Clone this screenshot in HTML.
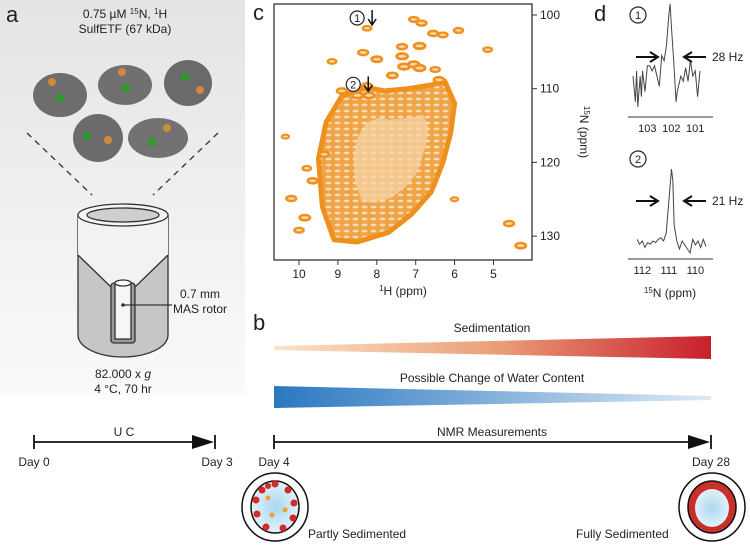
<!DOCTYPE html>
<html><head><meta charset="utf-8"><style>
body{margin:0;background:#fff;font-family:"Liberation Sans",sans-serif;}
svg text{font-family:"Liberation Sans",sans-serif;fill:#222;}
</style></head><body>
<svg id="fig" width="750" height="548" viewBox="0 0 750 548" xmlns="http://www.w3.org/2000/svg">
<defs>
<linearGradient id="bgA" x1="0" y1="0" x2="0" y2="1"><stop offset="0" stop-color="#e4e4e4"/><stop offset="1" stop-color="#fafafa"/></linearGradient>
<linearGradient id="sed" x1="0" x2="1"><stop offset="0" stop-color="#fbe3c8"/><stop offset="0.5" stop-color="#eba07a"/><stop offset="1" stop-color="#c8202a"/></linearGradient>
<linearGradient id="wat" x1="0" x2="1"><stop offset="0" stop-color="#2a78c0"/><stop offset="1" stop-color="#dde9f4"/></linearGradient>
<radialGradient id="core"><stop offset="0" stop-color="#a9d8f0"/><stop offset="1" stop-color="#e2f1f8"/></radialGradient>
<pattern id="mottle" width="9" height="6" patternUnits="userSpaceOnUse"><rect width="9" height="6" fill="#f0a448"/><ellipse cx="4.5" cy="3" rx="3" ry="1.4" fill="#f8dcb4"/></pattern>
<clipPath id="specClip"><rect x="274" y="4" width="258" height="256"/></clipPath>
</defs>
<g>
<rect x="0" y="0" width="245" height="395" fill="url(#bgA)"/>
<text x="6" y="22" font-size="22">a</text>
<text x="125" y="18" font-size="12" text-anchor="middle">0.75 µM <tspan font-size="8" dy="-4">15</tspan><tspan dy="4">N, </tspan><tspan font-size="8" dy="-4">1</tspan><tspan dy="4">H</tspan></text>
<text x="125" y="33" font-size="12" text-anchor="middle">SulfETF (67 kDa)</text>
<g>
<ellipse cx="60" cy="95" rx="27" ry="22" fill="#6d6d6d"/><circle cx="60" cy="98" r="4" fill="#2a9a2a"/><circle cx="52" cy="82" r="4" fill="#d08a3a"/>
<ellipse cx="125" cy="85" rx="27" ry="20" fill="#707070"/><circle cx="126" cy="88" r="4" fill="#2a9a2a"/><circle cx="122" cy="72" r="4" fill="#d08a3a"/>
<ellipse cx="188" cy="83" rx="24" ry="23" fill="#6a6a6a"/><circle cx="185" cy="77" r="4" fill="#2a9a2a"/><circle cx="200" cy="90" r="4" fill="#d08a3a"/>
<ellipse cx="98" cy="138" rx="25" ry="24" fill="#6b6b6b"/><circle cx="87" cy="136" r="4" fill="#2a9a2a"/><circle cx="108" cy="140" r="4" fill="#d08a3a"/>
<ellipse cx="158" cy="138" rx="30" ry="20" fill="#727272"/><circle cx="152" cy="142" r="4" fill="#2a9a2a"/><circle cx="167" cy="128" r="4" fill="#d08a3a"/>
</g>
<line x1="27" y1="133" x2="92" y2="195" stroke="#333" stroke-width="1.3" stroke-dasharray="6,5"/>
<line x1="218" y1="133" x2="153" y2="195" stroke="#333" stroke-width="1.3" stroke-dasharray="6,5"/>
<g stroke="#333" stroke-width="1.3">
<path d="M78 215 V335 A45 22 0 0 0 168 335 V215" fill="#c6c6c6"/>
<path d="M78 215 V255 L111 287 H135 L168 255 V215 Z" fill="#f2f2f2" stroke="none"/>
<ellipse cx="123" cy="215" rx="45" ry="11" fill="#f5f5f5"/>
<ellipse cx="123" cy="215" rx="36" ry="7" fill="#cfcfcf"/>
<path d="M78 255 L111 287 M168 255 L135 287" fill="none"/>
<rect x="111" y="283" width="24" height="60" rx="3" fill="#9a9a9a"/>
<rect x="115" y="283" width="16" height="56" fill="#f6f6f6"/>
<ellipse cx="123" cy="283" rx="8" ry="3" fill="#fff"/>
</g>
<line x1="123" y1="305" x2="172" y2="305" stroke="#333" stroke-width="1.3"/>
<circle cx="123" cy="305" r="1.8" fill="#333"/>
<text x="200" y="298" font-size="12" text-anchor="middle">0.7 mm</text>
<text x="200" y="313" font-size="12" text-anchor="middle">MAS rotor</text>
<text x="123" y="378" font-size="12" text-anchor="middle">82.000 x <tspan font-style="italic">g</tspan></text>
<text x="123" y="393" font-size="12" text-anchor="middle">4 °C, 70 hr</text>
</g>
<text x="253" y="20" font-size="22">c</text>
<g id="spec"></g>
<text x="594" y="21" font-size="22">d</text>
<g id="slices"></g>
<text x="253" y="330" font-size="22">b</text>
<text x="492" y="332" font-size="12" text-anchor="middle">Sedimentation</text>
<polygon points="274,346 711,336 711,359 274,350" fill="url(#sed)"/>
<text x="492" y="382" font-size="12" text-anchor="middle">Possible Change of Water Content</text>
<polygon points="274,386 711,396 711,400 274,408" fill="url(#wat)"/>
<g stroke="#111" stroke-width="1.8">
<line x1="34" y1="442" x2="200" y2="442"/><line x1="34" y1="435" x2="34" y2="449"/><line x1="215" y1="435" x2="215" y2="449"/>
<polygon points="192,435 214,442 192,449" fill="#111" stroke="none"/>
</g>
<text x="124" y="436" font-size="12" text-anchor="middle">U C</text>
<text x="34" y="466" font-size="12" text-anchor="middle">Day 0</text>
<text x="217" y="466" font-size="12" text-anchor="middle">Day 3</text>
<g stroke="#111" stroke-width="1.8">
<line x1="274" y1="442" x2="695" y2="442"/><line x1="274" y1="435" x2="274" y2="449"/><line x1="711" y1="435" x2="711" y2="449"/>
<polygon points="688,435 710,442 688,449" fill="#111" stroke="none"/>
</g>
<text x="492" y="436" font-size="12" text-anchor="middle">NMR Measurements</text>
<text x="274" y="466" font-size="12" text-anchor="middle">Day 4</text>
<text x="711" y="466" font-size="12" text-anchor="middle">Day 28</text>
<g>
<ellipse cx="275" cy="507" rx="33" ry="34" fill="#fff" stroke="#111" stroke-width="1.5"/>
<ellipse cx="275" cy="507" rx="24" ry="26" fill="url(#core)" stroke="#111" stroke-width="1.5"/>
<g fill="#d22a2a"><circle cx="262" cy="490" r="3.5"/><circle cx="275" cy="484" r="3.5"/><circle cx="288" cy="490" r="3.5"/><circle cx="294" cy="503" r="3.5"/><circle cx="293" cy="518" r="3.5"/><circle cx="283" cy="528" r="3.5"/><circle cx="266" cy="527" r="3.5"/><circle cx="257" cy="514" r="3.5"/><circle cx="256" cy="500" r="3.5"/><circle cx="268" cy="486" r="3"/></g>
<g fill="#f0a030"><circle cx="268" cy="498" r="2.5"/><circle cx="285" cy="510" r="2.5"/><circle cx="272" cy="515" r="2.5"/></g>
</g>
<text x="308" y="538" font-size="12">Partly Sedimented</text>
<g>
<ellipse cx="712" cy="507" rx="33" ry="34" fill="#fff" stroke="#111" stroke-width="1.5"/>
<ellipse cx="712" cy="507" rx="24" ry="26" fill="#c9302a" stroke="#111" stroke-width="1.5"/>
<ellipse cx="712" cy="508" rx="17" ry="19" fill="url(#core)"/>
</g>
<text x="576" y="538" font-size="12">Fully Sedimented</text>
</svg>
<script>
// HSQC isolated peaks: 1H ppm, 15N ppm, relative size
const peakH=[8.25,7.05,6.85,6.55,6.3,5.9,7.35,6.9,8.35,8.0,7.35,7.05,6.5,5.15,9.15,8.25,7.6,7.3,6.9,6.4,8.5,8.2,10.35,9.35,9.65,10.2,9.85,10.0,6.0,4.6,4.3,8.9,9.8];
const peakN=[101.8,100.6,101.1,102.5,102.7,102.1,104.3,104.2,105.1,106.0,105.6,106.7,107.4,104.7,106.3,109.6,108.2,107.0,107.2,108.8,110.9,110.9,116.5,118.9,122.5,124.9,127.5,129.2,125.0,128.3,131.3,110.3,120.8];
const peakI=[0.6,0.7,0.8,0.8,0.7,0.7,0.8,1,0.8,0.9,1,1,0.7,0.6,0.6,0.8,0.9,1,1,0.9,0.9,0.9,0.4,0.7,0.8,0.8,0.9,0.7,0.4,0.8,0.9,0.8,0.6];
// crowded-region outline (1H, 15N)
const blobH=[8.9,8.3,7.8,7.2,6.6,6.25,6.0,6.1,6.3,6.6,7.1,7.7,8.5,9.1,9.4,9.5,9.3];
const blobN=[111.0,109.8,110.3,110.0,109.5,109.0,112.0,116.0,120.0,124.0,127.0,129.5,130.8,130.5,126.0,119.5,114.5];
const hTicks=[10,9,8,7,6,5], nTicks=[100,110,120,130];
// slice traces (intensity, arbitrary units)
const s1N=[103.6,103.5,103.45,103.4,103.3,103.25,103.2,103.1,103.0,102.9,102.8,102.7,102.6,102.5,102.4,102.3,102.2,102.1,102.05,102.0,101.9,101.8,101.75,101.7,101.6,101.5,101.4,101.3,101.2,101.1,101.0,100.9,100.8];
const s1I=[0.3,0.05,0.35,0.0,0.3,0.1,0.35,0.15,0.4,0.4,0.35,0.4,0.3,0.2,0.5,0.45,0.6,0.9,1.0,0.8,0.45,0.05,0.15,0.2,0.3,0.25,0.38,0.25,0.45,0.3,0.35,0.1,0.35];
const s2N=[112.2,112.1,112.0,111.9,111.8,111.7,111.6,111.5,111.4,111.3,111.2,111.1,111.0,110.9,110.85,110.8,110.7,110.6,110.5,110.4,110.3,110.2,110.1,110.0,109.9,109.8,109.7,109.6];
const s2I=[0.12,0.06,0.1,0.02,0.08,0.06,0.1,0.08,0.12,0.14,0.1,0.2,0.6,1.0,0.85,0.3,0.1,0.0,0.1,0.05,0.0,-0.05,0.12,0.05,0.1,0.02,0.12,0.03];
const s1Ticks=[103,102,101], s2Ticks=[112,111,110];

const NS='http://www.w3.org/2000/svg';
function mk(tag,attrs,parent){const e=document.createElementNS(NS,tag);for(const k in attrs)e.setAttribute(k,attrs[k]);parent.appendChild(e);return e;}
const sx=h=>299+(10-h)*38.9, sy=n=>15+(n-100)*7.37;
const spec=document.getElementById('spec');
const box=mk('rect',{x:274,y:4,width:258,height:256,fill:'#fff',stroke:'#333','stroke-width':1.3},spec);


const pts=blobH.map((h,i)=>sx(h)+','+sy(blobN[i])).join(' ');
const blob=mk('polygon',{points:pts,fill:'url(#mottle)',stroke:'#ef8f1c','stroke-width':5,'stroke-linejoin':'round'},spec);


const inner=mk('polygon',{points:blobH.map((h,i)=>(sx(h)*0.55+sx(7.5)*0.45)+','+(sy(blobN[i])*0.55+sy(119)*0.45)).join(' '),fill:'#f6d3a4',opacity:0.75},spec);


peakH.forEach((h,i)=>{const e=mk('ellipse',{cx:sx(h),cy:sy(peakN[i]),rx:2.5+3*peakI[i],ry:1.5+1.3*peakI[i],fill:'#f9d9b0',stroke:'#ef8f1c','stroke-width':1.5+1.2*peakI[i]},spec);

});
hTicks.forEach(t=>{mk('line',{x1:sx(t),y1:260,x2:sx(t),y2:265,stroke:'#333'},spec);const tx=mk('text',{x:sx(t),y:278,'font-size':12,'text-anchor':'middle'},spec);tx.textContent=t;

});
nTicks.forEach(t=>{mk('line',{x1:532,y1:sy(t),x2:537,y2:sy(t),stroke:'#333'},spec);const tx=mk('text',{x:540,y:sy(t)+4,'font-size':12},spec);tx.textContent=t;

});
const xt=mk('text',{x:403,y:295,'font-size':12,'text-anchor':'middle'},spec);xt.innerHTML='<tspan font-size="8" dy="-4">1</tspan><tspan dy="4">H (ppm)</tspan>';


const yt=mk('text',{x:0,y:0,'font-size':12,'text-anchor':'middle',transform:'translate(580,132) rotate(90)'},spec);yt.innerHTML='<tspan font-size="8" dy="-4">15</tspan><tspan dy="4">N (ppm)</tspan>';


[[1,sx(8.3)-8,sy(100)+3],[2,sx(8.4)-8,sy(109)+3]].forEach(([n,x,y])=>{mk('circle',{cx:x,cy:y,r:7,fill:'#fff',stroke:'#222','stroke-width':1.2},spec);const t=mk('text',{x:x,y:y+4,'font-size':11,'text-anchor':'middle'},spec);t.textContent=n;


const a=mk('path',{d:`M${x+15} ${y-8} V${y+6} M${x+11} ${y+1} L${x+15} ${y+7} L${x+19} ${y+1}`,stroke:'#111','stroke-width':1.5,fill:'none'},spec);

});
const sl=document.getElementById('slices');
function slice(N,I,ticks,h0,base,x0,x1,nL,nR,num,hz,arrY){
 const fx=n=>x0+(nL-n)/(nL-nR)*(x1-x0), fy=v=>base-10-v*h0;
 mk('line',{x1:628,y1:base,x2:713,y2:base,stroke:'#333','stroke-width':1},sl);
 const p=mk('polyline',{points:N.map((n,i)=>fx(n)+','+fy(I[i])).join(' '),fill:'none',stroke:'#444','stroke-width':1},sl);
 
 
 ticks.forEach(t=>{const tx=mk('text',{x:fx(t),y:base+15,'font-size':11,'text-anchor':'middle'},sl);tx.textContent=t;
 
 });
 mk('circle',{cx:638,cy:arrY-42,r:8,fill:'#fff',stroke:'#222','stroke-width':1.2},sl);
 const c=mk('text',{x:638,y:arrY-38,'font-size':11,'text-anchor':'middle'},sl);c.textContent=num;
 
 
 const a=mk('path',{d:`M636 ${arrY} H656 M650 ${arrY-5} L658 ${arrY} L650 ${arrY+5} M706 ${arrY} H686 M692 ${arrY-5} L684 ${arrY} L692 ${arrY+5}`,stroke:'#111','stroke-width':2,fill:'none'},sl);
 
 
 const l=mk('text',{x:712,y:arrY+4,'font-size':12},sl);l.textContent=hz;
 
 
}
slice(s1N,s1I,s1Ticks,103,117,633,700,103.6,100.8,1,'28 Hz',57);
slice(s2N,s2I,s2Ticks,80,259,637,706,112.2,109.6,2,'21 Hz',201);
const st=mk('text',{x:670,y:297,'font-size':12,'text-anchor':'middle'},sl);st.innerHTML='<tspan font-size="8" dy="-4">15</tspan><tspan dy="4">N (ppm)</tspan>';


</script>
</body></html>
